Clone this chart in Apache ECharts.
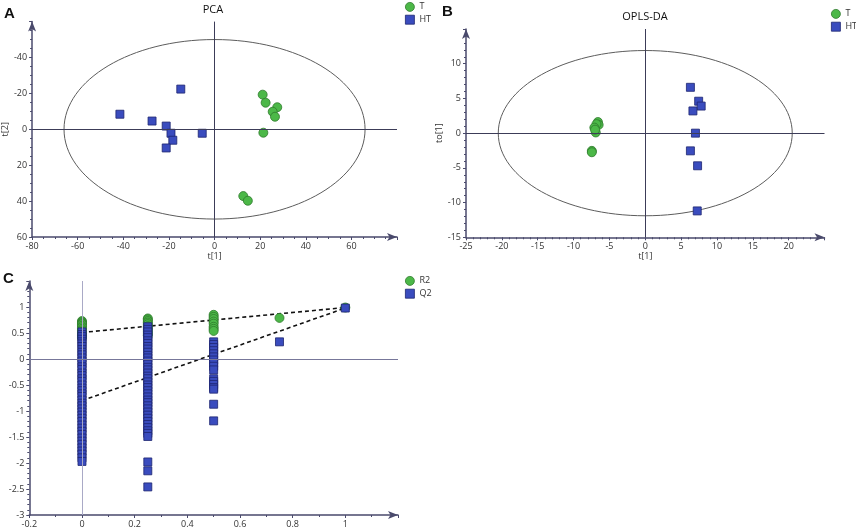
<!DOCTYPE html>
<html>
<head>
<meta charset="UTF-8">
<script src="https://cdn.jsdelivr.net/npm/echarts@6/dist/echarts.min.js"></script>
<style>
html, body { margin: 0; background: #fff; }
#main { width: 856px; height: 532px; }
</style>
</head>
<body>
<div id="main"></div>
<script>
// A: PCA scores [t[1], t[2]]
var pcaT  = [[21.1, -19.3], [22.4, -14.8], [27.5, -12.3], [25.5, -9.8], [26.5, -7.0], [21.4, 1.9], [12.6, 37.2], [14.6, 39.8]];
var pcaHT = [[-41.5, -8.4], [-14.8, -22.4], [-27.4, -4.6], [-21.2, -1.8], [-19.1, 2.2], [-18.3, 6.1], [-21.2, 10.4], [-5.4, 2.2]];
var pcaEllipse = [66, 50];

// B: OPLS-DA scores [t[1], to[1]]
var oplsT  = [[-6.6, 1.6], [-6.5, 1.2], [-6.8, 1.3], [-7.1, 0.8], [-6.9, 0.1], [-7.0, 0.5], [-7.45, -2.55], [-7.45, -2.75]];
var oplsHT = [[6.3, 6.6], [7.45, 4.6], [7.8, 3.9], [6.65, 3.2], [7.0, 0.0], [6.3, -2.55], [7.3, -4.7], [7.25, -11.2]];
var oplsEllipse = [20.5, 11.9];

// C: permutation test, one list per retained fraction
var permRatio = [0, 0.25, 0.5, 0.75, 1];
var r2Values = [
  [0.73, 0.71, 0.69, 0.67, 0.64, 0.61, 0.58, 0.55, 0.52, 0.48, 0.45, 0.41],
  [0.78, 0.76, 0.73, 0.7, 0.67, 0.63, 0.6, 0.56, 0.52, 0.48, 0.45],
  [0.85, 0.81, 0.77, 0.72, 0.68, 0.62, 0.58, 0.54],
  [0.79],
  [0.99]
];
var q2Values = [
  [0.52, 0.47, 0.43, 0.38, 0.33, 0.29, 0.24, 0.18, 0.13, 0.08, 0.02, -0.04, -0.09, -0.15, -0.2, -0.27, -0.32,
   -0.38, -0.43, -0.5, -0.56, -0.61, -0.67, -0.72, -0.79, -0.85, -0.9, -0.96, -1.02, -1.08, -1.14, -1.2,
   -1.27, -1.33, -1.39, -1.45, -1.52, -1.58, -1.64, -1.71, -1.77, -1.83, -1.9, -1.97],
  [0.62, 0.57, 0.52, 0.46, 0.41, 0.35, 0.3, 0.24, 0.19, 0.13, 0.07, 0.02, -0.04, -0.1, -0.16, -0.21, -0.27,
   -0.33, -0.38, -0.44, -0.5, -0.55, -0.61, -0.67, -0.73, -0.79, -0.84, -0.9, -0.96, -1.02, -1.08, -1.14,
   -1.2, -1.26, -1.32, -1.38, -1.43, -1.49, -1.98, -2.15, -2.46],
  [0.33, 0.28, 0.22, 0.16, 0.1, 0.04, -0.02, -0.08, -0.14, -0.21, -0.38, -0.43, -0.49, -0.55, -0.58, -0.87, -1.19],
  [0.33],
  [0.98]
];
// regression lines: value at ratio 0 and at ratio 1
var r2Line = [0.51, 0.99];
var q2Line = [-0.8, 0.98];

var green = '#4cb848', greenEdge = '#2f7a2c';
var blue = '#3a4cbe', blueEdge = '#1d2470';
var axisColor = '#4a4a6c';
var font = 'Open Sans';

function flip(list) {
  return list.map(function (p) { return [p[0], -p[1]]; });
}
function columns(list) {
  var out = [];
  for (var i = 0; i < permRatio.length; i++) {
    for (var j = 0; j < list[i].length; j++) out.push([permRatio[i], list[i][j]]);
  }
  return out;
}

function makeAxis(o) {
  return {
    type: 'value', gridIndex: o.grid, min: o.min, max: o.max, interval: o.step,
    axisLine: { onZero: false, symbol: ['none', 'arrow'], symbolSize: [6, 10],
      lineStyle: { color: axisColor, width: 1.5 } },
    axisTick: { show: true, length: 3, lineStyle: { color: axisColor } },
    minorTick: { show: true, splitNumber: o.minor, length: 2, lineStyle: { color: axisColor } },
    splitLine: { show: false },
    axisLabel: {
      fontSize: 9, color: '#333', fontFamily: font, margin: 5, showMaxLabel: false,
      formatter: function (v) {
        if (Math.abs(v - o.max) < 1e-9) return '';
        return o.negate ? String(-v) : String(+v.toFixed(2));
      }
    },
    name: o.name || '', nameLocation: 'middle', nameGap: o.gap || 15,
    nameTextStyle: { fontSize: 9, color: '#333', fontFamily: font }
  };
}

function ellipse(r) {
  return function (params, api) {
    var c = api.coord([0, 0]);
    var s = api.size([r[0], r[1]]);
    return {
      type: 'ellipse', silent: true,
      shape: { cx: c[0], cy: c[1], rx: s[0], ry: s[1] },
      style: { fill: null, stroke: '#5c5c5c', lineWidth: 1 }
    };
  };
}

var zeroLines = {
  silent: true, symbol: ['none', 'none'], label: { show: false },
  lineStyle: { color: '#3c3c58', width: 1, type: 'solid' },
  data: [{ xAxis: 0 }, { yAxis: 0 }]
};

function dots(name, idx, data, size, extra) {
  var s = {
    name: name, type: 'scatter', xAxisIndex: idx, yAxisIndex: idx, data: data,
    symbol: 'circle', symbolSize: size,
    itemStyle: { color: green, borderColor: greenEdge, borderWidth: 0.8, opacity: 1 }
  };
  for (var k in extra) s[k] = extra[k];
  return s;
}
function squares(name, idx, data, size) {
  return {
    name: name, type: 'scatter', xAxisIndex: idx, yAxisIndex: idx, data: data,
    symbol: 'rect', symbolSize: size,
    itemStyle: { color: blue, borderColor: blueEdge, borderWidth: 0.8, opacity: 1 }
  };
}
function fitLine(idx, vals) {
  return {
    type: 'line', xAxisIndex: idx, yAxisIndex: idx, z: 1,
    data: [[0, vals[0]], [1, vals[1]]], symbol: 'none',
    lineStyle: { color: '#111', width: 1.6, type: [4, 3] }
  };
}

function legendAt(left, top, names) {
  return {
    data: names, orient: 'vertical', left: left, top: top, padding: 0,
    itemWidth: 9, itemHeight: 9, itemGap: 3,
    itemStyle: { borderWidth: 0.8 },
    textStyle: { fontSize: 9, color: '#333', fontFamily: font }
  };
}

function label(text, x, y, size, bold, align) {
  return {
    type: 'text', x: x, y: y,
    style: { text: text, fill: '#111', fontSize: size, fontFamily: bold ? 'Liberation Sans' : font,
      fontWeight: bold ? 'bold' : 'normal', textAlign: align || 'left', textVerticalAlign: 'middle' }
  };
}

var chart = echarts.init(document.getElementById('main'));
chart.setOption({
  animation: false,
  grid: [
    { left: 29, top: 21.6, width: 368, height: 215.4 },
    { left: 466, top: 29, width: 358.5, height: 208.3 },
    { left: 29.3, top: 281, width: 368.7, height: 234 }
  ],
  xAxis: [
    makeAxis({ grid: 0, min: -80, max: 80, step: 20, minor: 4, name: 't[1]', gap: 15 }),
    makeAxis({ grid: 1, min: -25, max: 25, step: 5, minor: 5, name: 't[1]', gap: 15 }),
    makeAxis({ grid: 2, min: -0.2, max: 1.2, step: 0.2, minor: 2 })
  ],
  yAxis: [
    makeAxis({ grid: 0, min: -60, max: 60, step: 20, minor: 4, name: 't[2]', gap: 18, negate: true }),
    makeAxis({ grid: 1, min: -15, max: 15, step: 5, minor: 5, name: 'to[1]', gap: 8 }),
    makeAxis({ grid: 2, min: -3, max: 1.5, step: 0.5, minor: 5 })
  ],
  legend: [
    legendAt(405, 2, ['T', 'HT']),
    legendAt(831, 9, ['T', 'HT']),
    legendAt(405, 276, ['R2', 'Q2'])
  ],
  graphic: [
    label('A', 4, 14, 15, true),
    label('PCA', 213, 10, 11, false, 'center'),
    label('B', 442, 12, 15, true),
    label('OPLS-DA', 645, 17, 11, false, 'center'),
    label('C', 3, 279, 15, true)
  ],
  series: [
    { type: 'custom', xAxisIndex: 0, yAxisIndex: 0, data: [[0, 0]], renderItem: ellipse(pcaEllipse), z: 1 },
    dots('T', 0, flip(pcaT), 9, { markLine: zeroLines }),
    squares('HT', 0, flip(pcaHT), 8),

    { type: 'custom', xAxisIndex: 1, yAxisIndex: 1, data: [[0, 0]], renderItem: ellipse(oplsEllipse), z: 1 },
    dots('T', 1, oplsT, 9, { markLine: zeroLines }),
    squares('HT', 1, oplsHT, 8),

    fitLine(2, r2Line),
    fitLine(2, q2Line),
    dots('R2', 2, columns(r2Values), 9, {
      markLine: {
        silent: true, symbol: ['none', 'none'], label: { show: false },
        data: [
          { xAxis: 0, lineStyle: { color: '#a9a9c6', width: 1, type: 'solid' } },
          { yAxis: 0, lineStyle: { color: '#77779a', width: 1, type: 'solid' } }
        ]
      }
    }),
    squares('Q2', 2, columns(q2Values), 8)
  ]
});
</script>
</body>
</html>
